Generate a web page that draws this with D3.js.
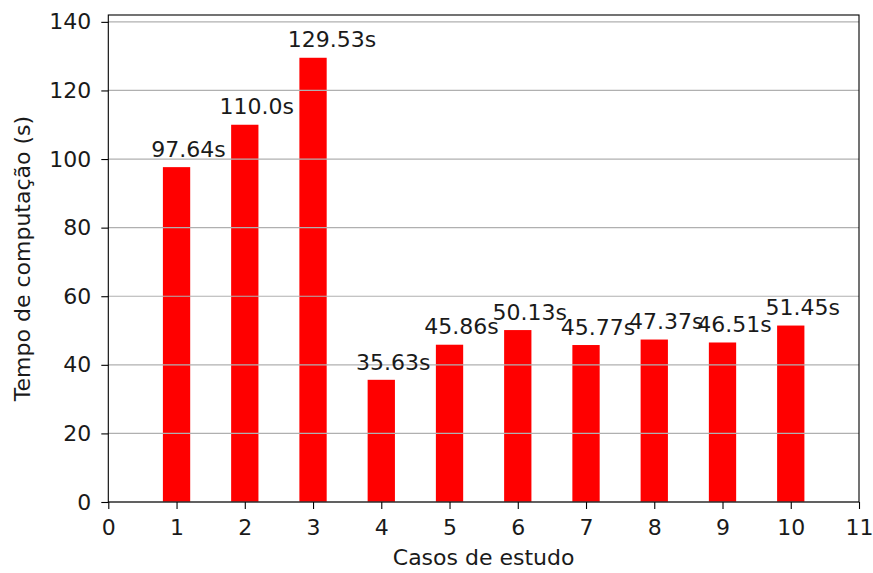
<!DOCTYPE html>
<html>
<head>
<meta charset="utf-8">
<script src="https://cdn.jsdelivr.net/npm/d3@7/dist/d3.min.js"></script>
<style>
  html, body { margin: 0; padding: 0; background: #fff; }
  svg { display: block; font-family: "DejaVu Sans", sans-serif; }
</style>
</head>
<body>
<svg id="chart" width="873" height="573"></svg>
<script>
// Casos de estudo e tempos de computação (segundos)
const cases = [1, 2, 3, 4, 5, 6, 7, 8, 9, 10];
const times = [97.64, 110.0, 129.53, 35.63, 45.86, 50.13, 45.77, 47.37, 46.51, 51.45];
const timeLabels = ["97.64s", "110.0s", "129.53s", "35.63s", "45.86s", "50.13s", "45.77s", "47.37s", "46.51s", "51.45s"];
const xTicks = [0, 1, 2, 3, 4, 5, 6, 7, 8, 9, 10, 11];
const yTicks = [0, 20, 40, 60, 80, 100, 120, 140];

const svg = d3.select("#chart");
const plot = { left: 108.3, right: 859, top: 15, bottom: 502 };
const fontSize = 22;

const x = d3.scaleLinear().domain([0, 11]).range([plot.left, plot.right]);
const y = d3.scaleLinear().domain([0, 142]).range([plot.bottom, plot.top]);
const barWidth = 0.4;

// barras
svg.append("g")
  .selectAll("rect")
  .data(cases)
  .join("rect")
  .attr("x", (d) => x(d - barWidth / 2))
  .attr("width", (d) => x(d + barWidth / 2) - x(d - barWidth / 2))
  .attr("y", (d, i) => y(times[i]))
  .attr("height", (d, i) => y(0) - y(times[i]))
  .attr("fill", "#ff0000");

// grelha horizontal por cima das barras
svg.append("g")
  .selectAll("line")
  .data(yTicks)
  .join("line")
  .attr("x1", plot.left).attr("x2", plot.right)
  .attr("y1", (d) => y(d)).attr("y2", (d) => y(d))
  .attr("stroke", "#b0b0b0")
  .attr("stroke-width", 1.2);

// eixos
const xAxis = d3.axisBottom(x).tickValues(xTicks).tickFormat(d3.format("d"))
  .tickSizeInner(7).tickSizeOuter(0).tickPadding(10);
const yAxis = d3.axisLeft(y).tickValues(yTicks).tickFormat(d3.format("d"))
  .tickSizeInner(7).tickSizeOuter(0).tickPadding(10);

const gx = svg.append("g").attr("transform", `translate(0,${plot.bottom})`).call(xAxis);
const gy = svg.append("g").attr("transform", `translate(${plot.left},0)`).call(yAxis);
[gx, gy].forEach((g) => {
  g.select(".domain").remove();
  g.selectAll(".tick line").attr("stroke", "#000").attr("stroke-width", 1.1);
  g.selectAll(".tick text").attr("fill", "#1a1a1a").style("font-size", fontSize + "px")
    .style("font-family", "DejaVu Sans, sans-serif");
});

// moldura
svg.append("rect")
  .attr("x", plot.left).attr("y", plot.top)
  .attr("width", plot.right - plot.left).attr("height", plot.bottom - plot.top)
  .attr("fill", "none").attr("stroke", "#000").attr("stroke-width", 1.1);

// rótulos de valor
svg.append("g")
  .selectAll("text")
  .data(cases)
  .join("text")
  .attr("x", (d) => x(d - 0.37))
  .attr("y", (d, i) => y(times[i] + 3))
  .attr("fill", "#1a1a1a")
  .style("font-size", fontSize + "px")
  .text((d, i) => timeLabels[i]);

// títulos dos eixos
svg.append("text")
  .attr("x", (plot.left + plot.right) / 2)
  .attr("y", 565)
  .attr("text-anchor", "middle")
  .attr("fill", "#1a1a1a")
  .style("font-size", fontSize + "px")
  .text("Casos de estudo");

svg.append("text")
  .attr("transform", `translate(30,${(plot.top + plot.bottom) / 2}) rotate(-90)`)
  .attr("text-anchor", "middle")
  .attr("fill", "#1a1a1a")
  .style("font-size", fontSize + "px")
  .text("Tempo de computação (s)");
</script>
</body>
</html>
